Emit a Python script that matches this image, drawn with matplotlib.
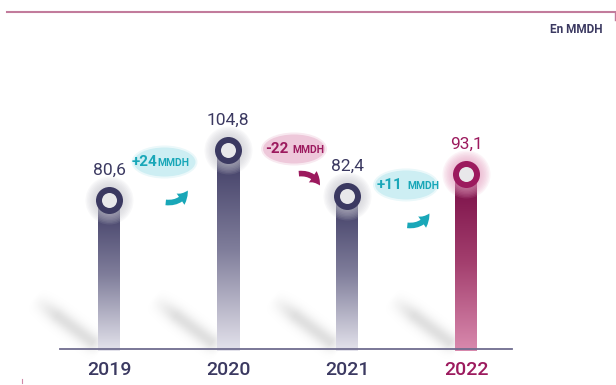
import numpy as np
import matplotlib
matplotlib.use("Agg")
import matplotlib.pyplot as plt
from matplotlib.patches import Ellipse, FancyArrowPatch
from matplotlib.colors import LinearSegmentedColormap, to_rgb

plt.rcParams['font.family'] = ['Roboto', 'DejaVu Sans']

# --- data ---
years = ["2019", "2020", "2021", "2022"]
values = [80.6, 104.8, 82.4, 93.1]
value_labels = ["80,6", "104,8", "82,4", "93,1"]
change_nums = ["+24", "-22", "+11"]
change_unit = "MMDH"
change_up = [True, False, True]
unit_note = "En MMDH"

# --- layout (bubble centres between bars, in data units) ---
bub_x = [0.466, 1.555, 2.496]
bub_y = [99.0, 105.3, 87.9]
bub_split = [-7.5, -4.0, -1.0]   # px, where number ends / unit starts
bub_gap = [0.0, 4.0, 5.0]

NAVY = "#3b3961"
MAGENTA = "#9c1a5e"
CYAN_TXT = "#19a7b8"
CYAN_BG = "#cdeef3"
PINK_BG = "#eec8da"

W, H = 616, 385
fig = plt.figure(figsize=(W / 100, H / 100), dpi=100)
deco = fig.add_axes([0, 0, 1, 1], zorder=0)
deco.set_xlim(0, W)
deco.set_ylim(H, 0)
deco.axis('off')
ax = fig.add_axes([0, 0, 1, 1], zorder=1)
ax.patch.set_visible(False)
ax.axis('off')

XL, YL = (-0.916, 4.26), (-8.9, 177.4)
sx = W / (XL[1] - XL[0])
sy = H / (YL[1] - YL[0])
base = 8.5
x = np.arange(len(years))
bw = 22 / sx

navy_cmap = LinearSegmentedColormap.from_list("nv", ["#3c3962", "#807e9b", "#e4e3ec"])
mag_cmap = LinearSegmentedColormap.from_list("mg", ["#780c45", "#a33f6e", "#d98aae"])
grad = np.linspace(0, 1, 256).reshape(-1, 1)

for i, (xi, v) in enumerate(zip(x, values)):
    last = i == len(years) - 1
    ax.imshow(grad, cmap=mag_cmap if last else navy_cmap, aspect='auto',
              extent=[xi - bw / 2, xi + bw / 2, base - 1, v], origin='upper', zorder=2)
    # halo
    hc = "#e7a2c4" if last else "#c9c9d1"
    for r in np.linspace(24, 14, 8):
        ax.scatter([xi], [v], s=(2 * r * 0.72) ** 2, color=hc, alpha=0.12,
                   linewidths=0, zorder=3)
    ax.scatter([xi], [v], s=(27 * 0.72) ** 2, color=MAGENTA if last else NAVY,
               linewidths=0, zorder=4)
    ax.scatter([xi], [v], s=(15 * 0.72) ** 2, color="#e8e8ea", linewidths=0, zorder=5)
    col = MAGENTA if last else NAVY
    ax.annotate(value_labels[i], (xi, v), xytext=(0, 18.5), textcoords='offset points',
                ha='center', va='baseline', fontsize=12.5, color=col, zorder=6)
    ax.annotate(years[i], (xi, base), xytext=(0, -18.7), textcoords='offset points',
                ha='center', va='baseline', fontsize=14, fontweight='medium',
                color=col, zorder=6)

ax.plot([x[0] - 0.41, x[-1] + 0.39], [base, base], color="#6f6c8f", lw=1.3, zorder=2.5)

# change bubbles + arrows
for i in range(len(change_nums)):
    bx, by = bub_x[i], bub_y[i]
    up = change_up[i]
    bg = CYAN_BG if up else PINK_BG
    tc = CYAN_TXT if up else MAGENTA
    ax.add_patch(Ellipse((bx, by), 66 / sx, 33 / sy, color=bg, alpha=0.4, lw=0, zorder=3))
    ax.add_patch(Ellipse((bx, by), 62 / sx, 29 / sy, color=bg, lw=0, zorder=3))
    s = bub_split[i]
    g = bub_gap[i]
    ax.text(bx + (s - g / 2) / sx, by - 4 / sy, change_nums[i], ha='right', va='baseline',
            fontsize=11, fontweight='bold', color=tc, zorder=4)
    ax.text(bx + (s + g / 2) / sx, by - 4 / sy, change_unit, ha='left', va='baseline',
            fontsize=7.5, fontweight='bold', color=tc, zorder=4)
    if up:
        p0, p1, rad = (-1.5, 40), (24.5, 26), 0.4
    else:
        p0, p1, rad = (2, 25), (27, 39), -0.4
    a = FancyArrowPatch((bx + p0[0] / sx, by - p0[1] / sy), (bx + p1[0] / sx, by - p1[1] / sy),
                        arrowstyle="simple,head_width=1.1,head_length=0.9,tail_width=0.45",
                        mutation_scale=9, connectionstyle=f"arc3,rad={rad}",
                        color=tc, lw=0, zorder=4)
    ax.add_patch(a)

ax.set_xlim(*XL)
ax.set_ylim(*YL)

# diagonal soft shadows behind bars
yy, xx = np.mgrid[0:H, 0:W] + 0.5
alpha = np.zeros((H, W))
for xi in x:
    cx = ax.transData.transform((xi, base))[0]
    p0 = np.array([cx - 70, 302.0])
    p1 = np.array([cx - 10, 347.0])
    d = p1 - p0
    t = ((xx - p0[0]) * d[0] + (yy - p0[1]) * d[1]) / (d @ d)
    tc_ = np.clip(t, 0, 1)
    dist = np.hypot(xx - (p0[0] + tc_ * d[0]), yy - (p0[1] + tc_ * d[1]))
    taper = np.clip(np.minimum((t + 0.1) / 0.4, (1.05 - t) / 0.15), 0, 1)
    alpha = np.maximum(alpha, 0.27 * np.exp(-dist ** 2 / (2 * 6.0 ** 2)) * taper)
img = np.zeros((H, W, 4))
img[..., :3] = to_rgb("#8c8c8c")
img[..., 3] = alpha
deco.imshow(img, extent=[0, W, H, 0], zorder=1)

# frame decorations
deco.plot([7, 614.5], [11.5, 11.5], color="#c27b9c", lw=1.5, zorder=2)
deco.plot([614.5, 614.5], [11.5, 20], color="#c27b9c", lw=1.0, zorder=2)
deco.text(603, 33, unit_note, ha='right', va='baseline', fontsize=8.5,
          fontweight='bold', color=NAVY)
deco.plot([21.5, 21.5], [379, 383], color="#d08aa8", lw=0.8)
deco.set_xlim(0, W)
deco.set_ylim(H, 0)

fig.savefig("out.png", dpi=100)
